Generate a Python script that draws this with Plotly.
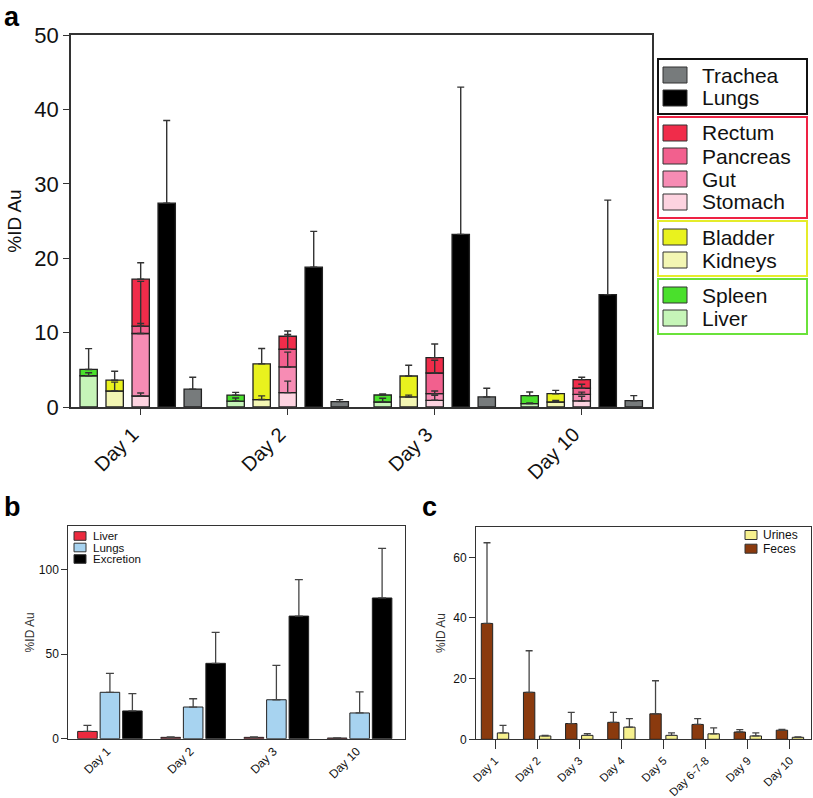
import numpy as np
import plotly.graph_objects as go

W, H = 813, 798

# ---------------- data: panel a ----------------
days_a = ["Day 1", "Day 2", "Day 3", "Day 10"]
liver_a = [4.2, 0.8, 0.67, 0.45]
liver_a_err = [0.4, 0.4, 0.5, 0.1]
spleen_a = [0.85, 0.8, 0.94, 1.08]
spleen_a_err = [2.8, 0.37, 0.15, 0.49]
kidneys_a = [2.15, 1.0, 1.35, 0.67]
kidneys_a_err = [1.2, 0.5, 0.25, 0.2]
bladder_a = [1.45, 4.8, 2.82, 1.12]
bladder_a_err = [1.2, 2.06, 1.44, 0.45]
stomach_a = [1.48, 1.93, 0.9, 0.81]
stomach_a_err = [0.4, 1.55, 0.67, 0.63]
gut_a = [8.4, 3.45, 0.89, 0.89]
gut_a_err = [1.35, 2.0, 0.36, 0.3]
pancreas_a = [1.0, 2.38, 2.78, 0.82]
pancreas_a_err = [6.0, 2.0, 1.71, 0.53]
rectum_a = [6.3, 1.75, 2.07, 1.16]
rectum_a_err = [2.2, 0.7, 1.83, 0.31]
lungs_a = [27.4, 18.8, 23.2, 15.1]
lungs_a_err = [11.1, 4.8, 19.8, 12.7]
trachea_a = [2.4, 0.72, 1.35, 0.85]
trachea_a_err = [1.6, 0.27, 1.17, 0.68]

# ---------------- data: panel b ----------------
days_b = ["Day 1", "Day 2", "Day 3", "Day 10"]
liver_b = [4.3, 0.8, 0.8, 0.4]
liver_b_err = [3.6, 0.2, 0.3, 0.1]
lungs_b = [27.4, 18.7, 23.0, 15.2]
lungs_b_err = [11.2, 4.9, 20.3, 12.5]
excretion_b = [16.4, 44.5, 72.4, 83.1]
excretion_b_err = [10.2, 18.3, 21.5, 29.3]

# ---------------- data: panel c ----------------
days_c = ["Day 1", "Day 2", "Day 3", "Day 4", "Day 5", "Day 6-7-8", "Day 9", "Day 10"]
feces_c = [38.2, 15.5, 5.2, 5.6, 8.4, 4.9, 2.4, 3.0]
feces_c_err = [26.6, 13.7, 3.7, 3.3, 10.9, 1.9, 0.8, 0.3]
urines_c = [2.1, 1.1, 1.3, 4.0, 1.3, 1.8, 1.1, 0.66]
urines_c_err = [2.5, 0.2, 0.6, 2.8, 0.8, 2.0, 1.0, 0.15]

# ---------------- styles ----------------
FONT = "Liberation Sans, Arial, Helvetica, sans-serif"
C = {
    "Liver": "#c6f5b8", "Spleen": "#4ae02c",
    "Kidneys": "#f3f6b3", "Bladder": "#e9f21e",
    "Stomach": "#fdd3e0", "Gut": "#f78cb4", "Pancreas": "#f2608e", "Rectum": "#f02c4a",
    "Lungs": "#000000", "Trachea": "#777b7c",
}
OUT = "#222222"


def fx(px):
    return px / W


def fy(py):
    return 1 - py / H


fig = go.Figure()

# ---------------- panel a ----------------
groups_a = [
    [("Liver", liver_a, liver_a_err), ("Spleen", spleen_a, spleen_a_err)],
    [("Kidneys", kidneys_a, kidneys_a_err), ("Bladder", bladder_a, bladder_a_err)],
    [("Stomach", stomach_a, stomach_a_err), ("Gut", gut_a, gut_a_err),
     ("Pancreas", pancreas_a, pancreas_a_err), ("Rectum", rectum_a, rectum_a_err)],
    [("Lungs", lungs_a, lungs_a_err)],
    [("Trachea", trachea_a, trachea_a_err)],
]
offsets_a = [-0.354, -0.177, 0.0, 0.177, 0.354]
bar_w_a = 0.118
xa = np.arange(len(days_a))
na = len(days_a)
for gi, group in enumerate(groups_a):
    xpos = xa + offsets_a[gi]
    for name, vals, errs in group:
        fig.add_bar(x=xpos, y=vals, width=bar_w_a, name=name,
                    marker=dict(color=C[name], line=dict(color=OUT, width=1.3)),
                    xaxis="x", yaxis="y", showlegend=False)
    cum = np.zeros(na)
    for name, vals, errs in group:
        cum = cum + np.array(vals)
        fig.add_scatter(x=xpos, y=cum, mode="markers",
                        marker=dict(size=2, opacity=0),
                        error_y=dict(type="data", array=errs, arrayminus=[0] * na,
                                     symmetric=False, color="#333", thickness=1.4, width=3.5),
                        xaxis="x", yaxis="y", showlegend=False, hoverinfo="skip")

# ---------------- panel b ----------------
series_b = [("Liver", liver_b, liver_b_err, "#ec2a3e"),
            ("Lungs", lungs_b, lungs_b_err, "#a7d3f0"),
            ("Excretion", excretion_b, excretion_b_err, "#000000")]
offsets_b = [-0.27, 0.0, 0.27]
xb = np.arange(len(days_b))
for k, (name, vals, errs, col) in enumerate(series_b):
    fig.add_bar(x=xb + offsets_b[k], y=vals, width=0.235, name=name,
                marker=dict(color=col, line=dict(color=OUT, width=1)),
                error_y=dict(type="data", array=errs, arrayminus=[0] * len(vals),
                             symmetric=False, color="#444", thickness=1.3, width=4),
                xaxis="x2", yaxis="y2", showlegend=False)

# ---------------- panel c ----------------
series_c = [("Feces", feces_c, feces_c_err, "#8a3a0e"),
            ("Urines", urines_c, urines_c_err, "#f6f08e")]
offsets_c = [-0.19, 0.19]
xc = np.arange(len(days_c))
for k, (name, vals, errs, col) in enumerate(series_c):
    fig.add_bar(x=xc + offsets_c[k], y=vals, width=0.27, name=name,
                marker=dict(color=col, line=dict(color=OUT, width=1)),
                error_y=dict(type="data", array=errs, arrayminus=[0] * len(vals),
                             symmetric=False, color="#444", thickness=1.3, width=3.5),
                xaxis="x3", yaxis="y3", showlegend=False)

axis_common = dict(showline=True, mirror=True, linecolor="#333", showgrid=False,
                   zeroline=False, tickcolor="#333", automargin=False)

fig.update_layout(
    width=W, height=H, margin=dict(l=0, r=0, t=0, b=0, autoexpand=False),
    paper_bgcolor="white", plot_bgcolor="white", barmode="relative",
    showlegend=False, font=dict(family=FONT, color="#111"),
    xaxis=dict(domain=[fx(71), fx(652)], range=[-0.474, 3.478], tickvals=list(xa),
               ticktext=days_a, tickangle=-45, tickfont=dict(size=20), ticklabelshift=-8,
               ticks="outside", ticklen=6, linewidth=1.5, anchor="y", **axis_common),
    yaxis=dict(domain=[fy(407), fy(35)], range=[0, 50], dtick=10, ticks="outside",
               ticklen=6, linewidth=1.5, tickfont=dict(size=22), anchor="x",
               title=dict(text="%ID Au", font=dict(size=19), standoff=8), **axis_common),
    xaxis2=dict(domain=[fx(68.3), fx(405)], range=[-0.5, 3.545], tickvals=list(xb),
                ticktext=days_b, tickangle=-45, tickfont=dict(size=12), ticks="",
                ticklabelshift=-3, linewidth=1, anchor="y2", **axis_common),
    yaxis2=dict(domain=[fy(738.7), fy(526)], range=[0, 125.6], tickvals=[0, 50, 100],
                ticks="outside", ticklen=6, linewidth=1, tickfont=dict(size=12), anchor="x2",
                title=dict(text="%ID Au", font=dict(size=12, color="#333"), standoff=1),
                **axis_common),
    xaxis3=dict(domain=[fx(476), fx(811)], range=[-0.451, 7.5], tickvals=list(xc),
                ticktext=days_c, tickangle=-45, tickfont=dict(size=11.5), ticks="outside",
                ticklen=9, linewidth=1, anchor="y3", **axis_common),
    yaxis3=dict(domain=[fy(739.3), fy(526.7)], range=[0, 70.1], tickvals=[0, 20, 40, 60],
                ticks="outside", ticklen=6, linewidth=1, tickfont=dict(size=12), anchor="x3",
                title=dict(text="%ID Au", font=dict(size=12, color="#333"), standoff=5),
                **axis_common),
)

shapes = []
annotations = []

# ---------------- custom legend, panel a ----------------
legend_groups_a = [
    (["Trachea", "Lungs"], "#111111"),
    (["Rectum", "Pancreas", "Gut", "Stomach"], "#ee2244"),
    (["Bladder", "Kidneys"], "#e5ec2a"),
    (["Spleen", "Liver"], "#6ae23a"),
]
box_x0, box_x1 = 658, 807
pad, row = 16, 23
ytop = 59
for names, bcol in legend_groups_a:
    hbox = 2 * pad + (len(names) - 1) * row
    shapes.append(dict(type="rect", xref="paper", yref="paper",
                       x0=fx(box_x0), x1=fx(box_x1), y0=fy(ytop + hbox), y1=fy(ytop),
                       line=dict(color=bcol, width=2)))
    for i, nm in enumerate(names):
        cy = ytop + pad + i * row
        shapes.append(dict(type="rect", xref="paper", yref="paper",
                           x0=fx(663), x1=fx(687), y0=fy(cy + 8), y1=fy(cy - 8),
                           fillcolor=C[nm], line=dict(color="#333", width=1)))
        annotations.append(dict(text=nm, x=fx(700), y=fy(cy), xref="paper", yref="paper",
                                xanchor="left", yanchor="middle", showarrow=False,
                                font=dict(size=21, color="#111")))
    ytop += hbox + 3

# ---------------- custom legend, panel b ----------------
for i, (name, vals, errs, col) in enumerate(series_b):
    cy = 536 + i * 11.5
    shapes.append(dict(type="rect", xref="paper", yref="paper",
                       x0=fx(74), x1=fx(86), y0=fy(cy + 4.3), y1=fy(cy - 4.3),
                       fillcolor=col, line=dict(color="#333", width=1)))
    annotations.append(dict(text=name, x=fx(91), y=fy(cy), xref="paper", yref="paper",
                            xanchor="left", yanchor="middle", showarrow=False,
                            font=dict(size=11.5, color="#111")))

# ---------------- custom legend, panel c ----------------
for i, (name, vals, errs, col) in enumerate(reversed(series_c)):
    cy = 535 + i * 13.7
    shapes.append(dict(type="rect", xref="paper", yref="paper",
                       x0=fx(745), x1=fx(757), y0=fy(cy + 4.5), y1=fy(cy - 4.5),
                       fillcolor=col, line=dict(color="#333", width=1)))
    annotations.append(dict(text=name, x=fx(761), y=fy(cy), xref="paper", yref="paper",
                            xanchor="left", yanchor="middle", showarrow=False,
                            font=dict(size=12, color="#111")))

# ---------------- panel letters ----------------
for letter, px, py in [("a", 2, 0), ("b", 2, 490), ("c", 420, 490)]:
    annotations.append(dict(text="<b>%s</b>" % letter, x=fx(px), y=fy(py), xref="paper",
                            yref="paper", xanchor="left", yanchor="top",
                            showarrow=False, font=dict(size=27, color="#000")))

fig.update_layout(shapes=shapes, annotations=annotations)

fig.write_html("out.html", config={"displayModeBar": False},
               post_script="document.body.style.margin='0px';")
